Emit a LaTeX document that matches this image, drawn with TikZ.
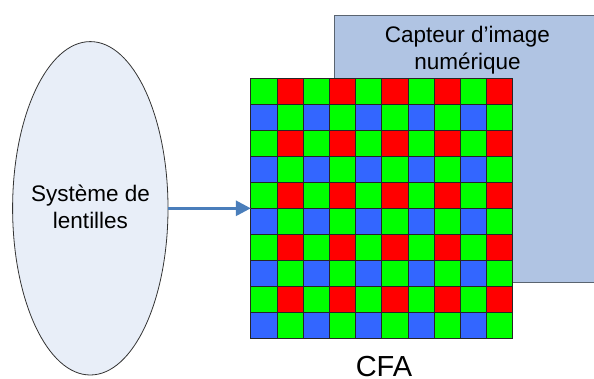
\documentclass[tikz,border=0pt]{standalone}
\usepackage{fontspec}
\setmainfont{Liberation Sans}
\usetikzlibrary{shapes.geometric,arrows.meta,calc}
\definecolor{lensfill}{HTML}{E8EEF8}
\definecolor{sensorfill}{HTML}{B0C4E3}
\definecolor{sensorline}{HTML}{5A6470}
\definecolor{arrowblue}{HTML}{4A7EBB}
\definecolor{cfagreen}{HTML}{00FF00}
\definecolor{cfared}{HTML}{FF0000}
\definecolor{cfablue}{HTML}{3366FF}
\tikzset{
  cell/.style={draw=black!85, line width=0.8pt},
  lbl/.style={font=\fontsize{22.5}{27}\selectfont, align=center, inner sep=0pt},
}
\begin{document}
\begin{tikzpicture}[x=1pt,y=-1pt]
\useasboundingbox (0,0) rectangle (594,379);
% sensor
\node[draw=sensorline, fill=sensorfill, line width=1pt, minimum width=270pt, minimum height=266.5pt, inner sep=0pt, anchor=north west] (sensor) at (334.3,15.3) {};
\node[lbl, anchor=base] (sensortext) at (467.5,70) {Capteur d’image\\numérique};
% lens
\node[ellipse, draw=black!80, fill=lensfill, line width=0.8pt, minimum width=155.4pt, minimum height=333.4pt, inner sep=0pt] (lens) at (90.3,208.3) {};
\node[lbl, anchor=base] (lenstext) at (90.5,228.5) {Système de\\lentilles};
% CFA
\node[minimum width=262pt, minimum height=260pt, inner sep=0pt] (cfa) at (382,208.3) {};
\foreach \i in {0,...,9}{
  \foreach \j in {0,...,9}{
    \pgfmathtruncatemacro{\ro}{mod(\j,2)}
    \pgfmathtruncatemacro{\co}{mod(\i,2)}
    \ifnum\ro=0
      \ifnum\co=0 \def\cc{cfagreen}\else\def\cc{cfared}\fi
    \else
      \ifnum\co=0 \def\cc{cfablue}\else\def\cc{cfagreen}\fi
    \fi
    \filldraw[cell, fill=\cc] ($(cfa.north west)+(\i*26.2,\j*26)$) rectangle ++(26.2,26);
  }
}
\node[font=\fontsize{29}{34}\selectfont, inner sep=0pt, anchor=base] (cfalabel) at (384,376) {CFA};
% arrow
\draw[arrowblue, line width=3pt, -{Triangle[length=15pt,width=15pt]}] (lens.east) -- (cfa.west);
\end{tikzpicture}
\end{document}
